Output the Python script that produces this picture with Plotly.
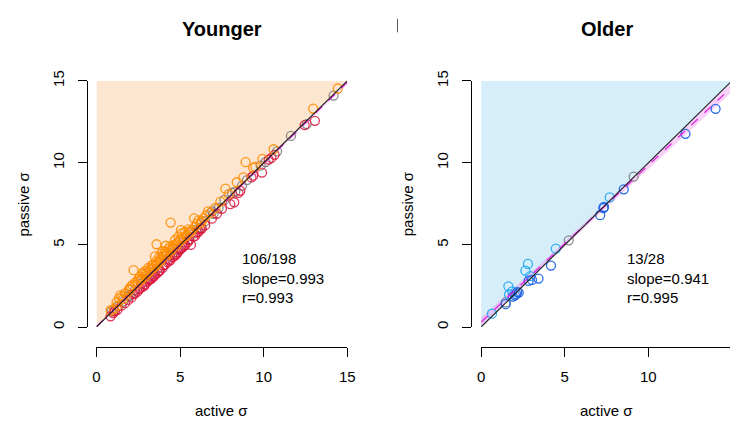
import plotly.graph_objects as go

W, H = 738, 424

# ---------------- data ----------------
# Younger panel
young_orange_x = [0.85,1.05,1.2,1.35,1.43,1.55,1.7,1.8,1.95,2.05,2.22,2.15,2.3,2.4,2.5,2.6,2.7,2.8,2.9,3.0,
                  3.1,3.2,3.3,3.39,3.45,3.55,3.59,3.65,3.75,3.85,3.9,4.0,4.1,4.2,4.3,4.43,4.4,4.5,4.6,4.7,
                  4.8,4.9,5.0,5.1,5.2,5.3,5.4,5.5,5.6,5.84,5.9,6.0,6.24,6.4,6.67,6.8,7.12,7.41,7.71,8.39,
                  8.78,8.92,9.37,9.5,9.92,10.59,12.96,14.43,2.0,2.45,2.65,2.95,3.15,3.35,3.6,3.8,4.05,4.25,
                  4.55,4.75,4.95,5.15,5.35,5.55,5.7,1.6,1.25,3.5,4.15,5.05,2.75,3.95,6.1,6.3,7.9,6.55]
young_orange_y = [1.02,1.1,1.5,1.75,1.93,1.85,2.05,2.0,2.3,2.45,3.46,2.55,2.7,2.6,2.9,3.05,2.95,3.2,3.4,3.25,
                  3.6,3.5,3.75,3.8,3.65,4.0,5.04,3.9,4.25,4.1,4.45,4.3,4.6,4.5,4.75,6.36,4.9,4.7,5.0,5.3,
                  5.1,5.5,5.3,5.7,5.45,5.8,5.6,5.95,5.75,6.62,6.1,6.3,6.35,6.6,7.05,6.95,7.25,7.64,8.43,8.82,
                  9.11,10.04,9.7,9.75,10.24,10.83,13.31,14.53,2.25,2.75,2.85,3.1,3.35,3.55,3.8,4.0,4.35,4.4,
                  4.85,4.95,5.2,5.4,5.55,5.8,5.9,1.7,1.3,4.3,4.95,5.9,3.3,4.6,6.5,6.45,8.1,6.8]
young_red_x = [0.84,1.0,1.25,1.5,1.7,1.9,2.1,2.3,2.45,2.6,2.75,2.9,3.05,3.2,3.35,3.5,3.65,3.8,3.95,4.1,
               4.25,4.4,4.55,4.7,4.85,5.0,5.15,5.3,5.45,5.65,5.9,6.1,6.3,6.5,6.9,7.2,7.5,8.0,8.24,8.49,
               8.6,9.27,9.37,9.9,10.46,10.65,10.3,12.45,13.06,2.2,2.55,2.85,3.1,3.45,3.75,4.0,4.35,4.65,
               5.05,5.25,5.55,5.8,6.0,3.3,4.8,6.2,1.1]
young_red_y = [0.65,0.85,1.05,1.3,1.45,1.65,1.8,2.05,2.15,2.35,2.45,2.6,2.75,2.9,3.05,3.2,3.3,3.45,3.6,3.8,
               3.95,4.05,4.25,4.35,4.55,4.7,4.85,5.0,5.15,5.0,5.55,5.8,6.0,6.2,6.6,6.9,7.2,7.48,7.6,8.17,
               8.3,9.11,9.22,9.41,10.3,10.49,10.2,12.3,12.56,2.0,2.3,2.5,2.85,3.1,3.4,3.75,4.1,4.4,
               4.8,4.95,5.3,5.5,5.75,2.95,4.45,5.95,0.95]
young_gray_x = [14.18,12.57,11.63,9.82,8.1,7.65,6.92,6.24,5.5,4.9,3.4,2.7,1.9,1.04,0.9,4.4,3.0,5.8,7.3,10.1,
                8.7,2.3,6.5,3.7,1.6,4.2,5.2,7.0,9.0,2.0,3.2,4.6,6.0,8.3,10.8,1.3]
young_gray_y = [14.1,12.36,11.64,9.83,8.17,7.74,7.05,6.06,5.35,4.75,3.35,2.65,1.85,0.98,0.95,4.35,2.95,5.7,7.25,10.05,
                8.6,2.25,6.45,3.6,1.55,4.15,5.15,6.9,8.95,1.95,3.15,4.55,5.95,8.25,10.7,1.25]

# Older panel
old_blue_x = [14.02,12.22,8.53,7.35,7.31,7.12,4.18,3.43,2.84,3.04,2.16,2.02,1.47,2.25,1.9,2.1]
old_blue_y = [13.29,11.77,8.39,7.31,7.25,6.81,3.74,2.95,2.81,2.87,2.13,1.93,1.39,2.1,1.85,2.0]
old_light_x = [7.69,4.47,2.8,2.65,2.94,1.63,1.86,1.67,0.65]
old_light_y = [7.9,4.77,3.84,3.43,3.1,2.48,2.17,1.98,0.81]
old_gray_x = [9.12,5.24,1.47]
old_gray_y = [9.16,5.28,1.5]

# fitted lines as drawn (slope, intercept) and confidence half-widths
young_fit = (0.993, 0.02)
old_fit = (0.955, 0.3)
band_x = [0, 4, 8, 15]
young_band_hw = [0.08, 0.04, 0.05, 0.1]
old_band_hw = [0.28, 0.14, 0.16, 0.3]

young_stats = ["106/198", "slope=0.993", "r=0.993"]
old_stats = ["13/28", "slope=0.941", "r=0.995"]
titles = ["Younger", "Older"]
ticks = [0, 5, 10, 15]
lim = 15

FONT = "Liberation Sans, Arial, Helvetica, sans-serif"

fig = go.Figure()


def add_panel(xa, ya, fill_col, groups, fit, hw):
    # shaded region above identity
    fig.add_trace(go.Scatter(x=[0, 0, lim, 0], y=[0, lim, lim, 0], mode="lines", fill="toself",
                             fillcolor=fill_col, line=dict(width=0), xaxis=xa, yaxis=ya,
                             hoverinfo="skip", showlegend=False))
    # regression band + line
    s, b = fit
    up = [b + s * x + h for x, h in zip(band_x, hw)]
    lo = [b + s * x - h for x, h in zip(band_x, hw)]
    fig.add_trace(go.Scatter(x=band_x + band_x[::-1], y=up + lo[::-1], mode="lines", fill="toself",
                             fillcolor="rgba(235,120,235,0.35)", line=dict(width=0), xaxis=xa, yaxis=ya,
                             hoverinfo="skip", showlegend=False))
    for xs, ys, col in groups:
        fig.add_trace(go.Scatter(x=xs, y=ys, mode="markers", xaxis=xa, yaxis=ya, cliponaxis=False,
                                 marker=dict(symbol="circle-open", size=9, color=col, line=dict(width=1.3)),
                                 showlegend=False))
    fig.add_trace(go.Scatter(x=[0, lim], y=[b, b + s * lim], mode="lines", xaxis=xa, yaxis=ya,
                             line=dict(color="rgb(225,40,225)", width=1.3, dash="dash"),
                             hoverinfo="skip", showlegend=False))
    fig.add_trace(go.Scatter(x=[0, lim], y=[0, lim], mode="lines", xaxis=xa, yaxis=ya,
                             line=dict(color="rgb(30,30,30)", width=1.1),
                             hoverinfo="skip", showlegend=False))


add_panel("x", "y", "rgb(253,230,208)",
          [(young_gray_x, young_gray_y, "rgba(120,120,120,0.85)"),
           (young_red_x, young_red_y, "rgba(220,20,60,0.85)"),
           (young_orange_x, young_orange_y, "rgba(255,140,0,0.9)")],
          young_fit, young_band_hw)
add_panel("x2", "y2", "rgb(214,238,250)",
          [(old_gray_x, old_gray_y, "rgba(120,120,120,0.85)"),
           (old_light_x, old_light_y, "rgba(40,170,240,0.95)"),
           (old_blue_x, old_blue_y, "rgba(30,100,230,0.95)")],
          old_fit, old_band_hw)

px = lambda v: v / W
py = lambda v: 1 - v / H

axis_common = dict(showgrid=False, zeroline=False, showline=True, linecolor="black", linewidth=1,
                   ticks="outside", ticklen=9, tickwidth=1, tickcolor="black",
                   tickvals=ticks, ticktext=[str(t) for t in ticks],
                   tickfont=dict(family=FONT, size=15, color="black"), anchor="free")

fig.update_layout(
    width=W, height=H, margin=dict(l=0, r=0, t=0, b=0),
    plot_bgcolor="white", paper_bgcolor="white", showlegend=False,
    xaxis=dict(domain=[px(94), px(349)], range=[0, lim], position=py(347), ticklabelstandoff=7, **axis_common),
    yaxis=dict(domain=[py(326), py(72)], range=[0, lim], position=px(84), tickangle=-90,
               ticklabelstandoff=8, **axis_common),
    xaxis2=dict(domain=[px(485), 1.0], range=[0, (W - 485) / 17.0], position=py(347), ticklabelstandoff=7,
                **axis_common),
    yaxis2=dict(domain=[py(326), py(72)], range=[0, lim], position=px(475), tickangle=-90,
                ticklabelstandoff=8, **axis_common),
)

ann = []
for xa, ya, title, stats, ytx in [("x", "y", titles[0], young_stats, 20), ("x2", "y2", titles[1], old_stats, 411)]:
    ann.append(dict(text=f"<b>{title}</b>", xref=xa, yref="paper", x=7.5, y=py(19), showarrow=False,
                    font=dict(family=FONT, size=20, color="black"), xanchor="center", yanchor="middle"))
    ann.append(dict(text="active σ", xref=xa, yref="paper", x=7.5, y=py(412), showarrow=False,
                    font=dict(family=FONT, size=15, color="black"), xanchor="center", yanchor="middle"))
    ann.append(dict(text="passive σ", xref="paper", yref=ya, x=px(ytx), y=7.5, showarrow=False, textangle=-90,
                    font=dict(family=FONT, size=15, color="black"), xanchor="center", yanchor="middle"))
    ann.append(dict(text="<br>".join(stats), xref=xa, yref=ya, x=8.6, y=3.0, showarrow=False, align="left",
                    font=dict(family=FONT, size=15, color="black"), xanchor="left", yanchor="middle"))
fig.update_layout(annotations=ann)
fig.add_shape(type="line", xref="paper", yref="paper", x0=px(400), x1=px(400), y0=py(8), y1=py(22),
              line=dict(color="rgb(90,90,90)", width=1))

fig.write_html("out.html", config={"displayModeBar": False},
               post_script="document.body.style.margin='0';document.body.style.overflow='hidden';")
